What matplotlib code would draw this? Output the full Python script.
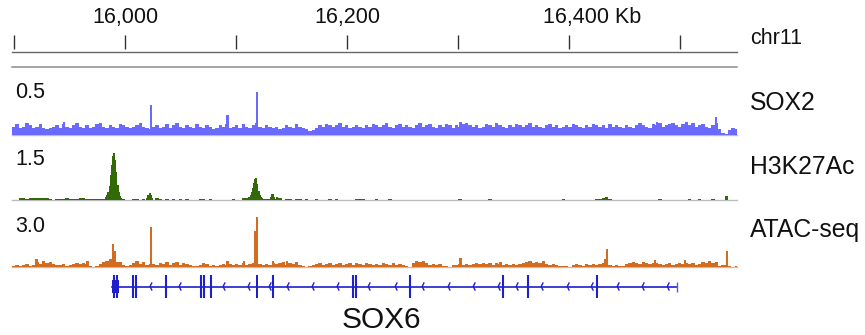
import numpy as np
import matplotlib
matplotlib.use('Agg')
import matplotlib.pyplot as plt
from matplotlib.patches import Rectangle

plt.rcParams['font.family'] = ['Liberation Sans', 'DejaVu Sans']

# ---------------- data ----------------
KB_START, KB_END = 15898, 16551
BIN_KB = 3

ruler_ticks = [15900, 16000, 16100, 16200, 16300, 16400, 16500]
ruler_labels = {16000: '16,000', 16200: '16,200', 16400: '16,400 Kb'}
chrom = 'chr11'

track_names = ['SOX2', 'H3K27Ac', 'ATAC-seq']
track_range = [0.5, 1.5, 3.0]
track_range_labels = ['0.5', '1.5', '3.0']
track_colors = ['#6a6aff', '#336a08', '#d26c1e']

# SOX2 background signal, 3 kb bins (hundredths)
sox2_bg = [7, 9, 6, 7, 10, 8, 6, 7, 9, 6, 5, 6, 7, 8, 6, 9, 7, 6, 8, 10, 7, 6,
           8, 6, 7, 9, 10, 7, 6, 8, 7, 6, 9, 8, 7, 6, 7, 8, 10, 7, 6, 5, 7, 8,
           6, 7, 9, 6, 8, 10, 7, 6, 8, 7, 6, 9, 7, 6, 8, 7, 5, 6, 8, 7, 9, 6,
           7, 8, 6, 9, 7, 6, 8, 10, 7, 6, 8, 7, 6, 7, 5, 6, 8, 7, 6, 9, 7, 6,
           5, 3, 4, 6, 8, 7, 9, 8, 7, 8, 10, 7, 8, 6, 7, 8, 7, 6, 8, 7, 9, 8,
           7, 8, 10, 7, 6, 8, 9, 7, 8, 7, 6, 8, 10, 7, 8, 9, 7, 6, 8, 7, 9, 8,
           6, 8, 7, 9, 10, 8, 7, 8, 6, 7, 9, 8, 7, 10, 8, 7, 6, 8, 7, 9, 8, 7,
           8, 10, 7, 8, 7, 6, 8, 9, 7, 8, 6, 7, 8, 7, 9, 8, 7, 6, 8, 7, 9, 8,
           7, 8, 6, 9, 7, 8, 7, 6, 8, 7, 6, 8, 10, 8, 7, 6, 9, 8, 10, 7, 8, 9,
           10, 8, 7, 9, 11, 8, 10, 7, 8, 9, 7, 6, 8, 10, 5, 2, 1, 4, 6, 5]
sox2_peak_kb = [15945, 16023, 16092, 16119, 16302, 16479, 16532]
sox2_peak_val = [0.11, 0.25, 0.17, 0.36, 0.11, 0.11, 0.15]

# H3K27Ac background, 3 kb bins (hundredths)
h3_bg = [0, 0, 4, 4, 2, 4, 5, 4, 5, 4, 4, 3, 0, 2, 2, 3, 5, 2, 2, 3, 6, 6,
         3, 2, 2, 2, 2, 3, 4, 4, 4, 4, 4, 2, 0, 0, 3, 3, 0, 3, 0, 0, 0, 4,
         2, 0, 3, 0, 3, 0, 3, 0, 3, 0, 0, 0, 3, 3, 0, 3, 0, 0, 0, 0, 0, 0,
         3, 0, 0, 4, 5, 3, 3, 3, 3, 3, 3, 3, 3, 3, 6, 0, 3, 3, 0, 3, 3, 0,
         3, 0, 0, 3, 0, 0, 0, 3, 0, 3, 0, 0, 0, 0, 0, 3, 3, 3, 0, 0, 0, 3,
         0, 0, 0, 3, 0, 0, 0, 0, 0, 0, 0, 0, 0, 0, 0, 0, 0, 0, 0, 0, 0, 0,
         0, 0, 3, 0, 0, 0, 0, 0, 0, 0, 0, 3, 0, 0, 0, 0, 0, 0, 0, 0, 0, 0,
         0, 0, 0, 0, 0, 0, 0, 0, 0, 0, 0, 3, 0, 0, 0, 0, 0, 0, 0, 0, 0, 3,
         3, 4, 8, 3, 0, 0, 0, 0, 0, 0, 0, 0, 0, 0, 0, 0, 0, 0, 3, 0, 0, 0,
         0, 0, 0, 0, 0, 3, 0, 0, 3, 0, 0, 0, 3, 0, 0, 0, 10, 0, 0, 0]
h3_peak_kb = [15983, 15984, 15985, 15986, 15987, 15988, 15989, 15990, 15991,
              15992, 15993, 15994, 15995, 15996,
              16112, 16113, 16114, 16115, 16116, 16117, 16118, 16119, 16120,
              16121, 16122, 16123,
              16020, 16021, 16022, 16023, 16024,
              16131, 16132, 16133, 16134, 16137]
h3_peak_val = [0.08, 0.13, 0.21, 0.37, 0.66, 0.92, 1.16, 1.24, 1.05,
               0.74, 0.39, 0.21, 0.11, 0.05,
               0.08, 0.13, 0.21, 0.32, 0.45, 0.55, 0.58, 0.42, 0.24,
               0.13, 0.08, 0.05,
               0.05, 0.13, 0.18, 0.13, 0.05,
               0.08, 0.16, 0.16, 0.08, 0.08]

# ATAC-seq background, 3 kb bins
atac_bg = [0.05, 0.1, 0.05, 0.1, 0.15, 0.05, 0.1,
           0.25, 0.15, 0.3, 0.2, 0.25, 0.15,
           0.1, 0.1, 0.15, 0.05, 0.1,
           0.15, 0.2, 0.15, 0.2, 0.15,
           0.05, 0.02, 0.05, 0.15, 0.25, 0.3, 0.4, 0.3, 0.25, 0.25,
           0.1, 0.05, 0.1, 0.2, 0.3, 0.15, 0.25, 0.1, 0.15, 0.15, 0.1,
           0.2, 0.15, 0.25, 0.1, 0.2, 0.25, 0.1, 0.2, 0.15, 0.1,
           0.05, 0.05, 0.1, 0.2, 0.15,
           0.05, 0.1, 0.05, 0.1, 0.15, 0.1,
           0.15, 0.1, 0.15, 0.1, 0.2, 0.1, 0.15, 0.2, 0.2, 0.15,
           0.1, 0.15, 0.1, 0.2, 0.15,
           0.2, 0.25, 0.1, 0.2, 0.15, 0.25, 0.1,
           0.05, 0.02, 0.05,
           0.1, 0.15, 0.2, 0.1, 0.15, 0.2, 0.1, 0.15, 0.2, 0.1, 0.15, 0.2,
           0.1, 0.2, 0.15, 0.1, 0.2, 0.15,
           0.1, 0.15, 0.1, 0.2, 0.15, 0.1, 0.2, 0.1, 0.15, 0.1, 0.05,
           0.02, 0.2, 0.3, 0.25, 0.3, 0.2,
           0.1, 0.15, 0.1, 0.15, 0.05, 0.05, 0.02, 0.1,
           0.1, 0.15, 0.1, 0.15, 0.1, 0.15, 0.2,
           0.15, 0.2, 0.15, 0.2, 0.1, 0.2,
           0.15, 0.1, 0.15, 0.1, 0.15, 0.1, 0.15,
           0.2, 0.25, 0.3, 0.2, 0.25, 0.2, 0.3, 0.15,
           0.1, 0.15, 0.1, 0.05, 0.05, 0.05, 0.02,
           0.1, 0.15, 0.1, 0.05, 0.15, 0.1, 0.15, 0.1, 0.15, 0.2, 0.25,
           0.1, 0.05, 0.1, 0.05, 0.05,
           0.15, 0.2, 0.25, 0.2, 0.15, 0.25, 0.2, 0.15, 0.2, 0.2, 0.15,
           0.1, 0.15, 0.2, 0.1, 0.15, 0.2, 0.15,
           0.2, 0.15, 0.2, 0.1, 0.15,
           0.25, 0.2, 0.3, 0.2, 0.25,
           0.05, 0.1, 0.1, 0.05, 0.02, 0.05]
atac_peak_kb = [15920, 15966, 15989, 15991, 16023, 16092, 16107, 16117,
                16119, 16133, 16146, 16302, 16338, 16432, 16434, 16477,
                16504, 16542]
atac_peak_val = [0.42, 0.32, 1.21, 0.84, 2.05, 0.32, 0.32, 1.84,
                 2.58, 0.32, 0.32, 0.47, 0.26, 0.42, 0.95, 0.37,
                 0.37, 0.84]

# SOX6 gene model (kb)
gene_name = 'SOX6'
gene_start, gene_end = 15988, 16497
utr_block = (15988, 15994.5)
exon_kb = [15989.5, 15993, 16007.0, 16009.7, 16036.8, 16068.3, 16071.0,
           16077.3, 16133.2, 16205.2, 16207.9, 16256.6, 16340.4, 16362.9,
           16425.1]
wide_exon = (16117.6, 16120.0)
chevron_kb = [16022.3, 16048.5, 16088.1, 16110.6, 16129.6, 16145.8, 16168.3,
              16190.8, 16218.8, 16243.1, 16267.4, 16290.8, 16313.4, 16335.9,
              16352.1, 16374.6, 16398.1, 16419.7, 16443.1, 16465.6, 16488.2]

# ---------------- figure ----------------
W, H = 865, 335
fig = plt.figure(figsize=(W / 100, H / 100), dpi=100)
fig.patch.set_facecolor('white')


def add_ax(x0, y0, x1, y1):
    ax = fig.add_axes([x0 / W, 1 - y1 / H, (x1 - x0) / W, (y1 - y0) / H])
    ax.set_axis_off()
    ax.set_xlim(KB_START, KB_END)
    return ax


def ftext(x, y, s, **kw):
    fig.text(x / W, 1 - y / H, s, va='baseline', **kw)


FS = 15.5
FS_TRACK = 17.8
GENE_BLUE = '#1f1fcc'

# ruler
axr = add_ax(12, 0, 737, 70)
axr.set_ylim(70, 0)
axr.plot([KB_START, KB_END], [51.5, 51.5], color='#666666', lw=1.0,
         clip_on=False)
axr.vlines(ruler_ticks, 35, 48.5, color='#333333', lw=1.0)
axr.plot([KB_START, KB_END], [66.5, 66.5], color='#8c8c8c', lw=1.1,
         clip_on=False)
for t, lab in ruler_labels.items():
    if lab.endswith('Kb'):
        axr.annotate(lab, xy=(t, 23.5), xytext=(-26, 0),
                     textcoords='offset pixels', ha='left', va='baseline',
                     fontsize=FS, color='#111111')
    else:
        axr.text(t, 23.5, lab, ha='center', va='baseline', fontsize=FS,
                 color='#111111')
ftext(750, 44.5, chrom, fontsize=FS, color='#111111')

# data tracks
track_boxes = [(75, 135), (143, 200), (209, 267)]
label_base = [109.5, 174.5, 237.5]
range_base = [98, 165, 232.5]
bgs = [np.array(sox2_bg) / 100.0, np.array(h3_bg) / 100.0, np.array(atac_bg)]
peaks = [(sox2_peak_kb, sox2_peak_val), (h3_peak_kb, h3_peak_val),
         (atac_peak_kb, atac_peak_val)]

for k in range(3):
    y0, y1 = track_boxes[k]
    ax = add_ax(12, y0, 737, y1)
    ax.set_ylim(0, track_range[k])
    vals = bgs[k]
    edges = KB_START + BIN_KB * np.arange(len(vals) + 1)
    ax.stairs(vals, edges, fill=True, color=track_colors[k], lw=0)
    pk, pv = peaks[k]
    ax.bar(pk, pv, width=2.0, color=track_colors[k], lw=0)
    ax.axhline(0, color='#bdbdbd', lw=1.0, clip_on=False, zorder=0)
    ftext(15, range_base[k], track_range_labels[k], fontsize=FS,
          color='#111111')
    ftext(750, label_base[k], track_names[k], fontsize=FS_TRACK,
          color='#111111')

# gene track
axg = add_ax(12, 268, 737, 335)
axg.set_ylim(335, 268)
yc = 286.5
axg.plot([gene_start, gene_end], [yc, yc], color=GENE_BLUE, lw=1.2)
axg.add_patch(Rectangle((utr_block[0], 280), utr_block[1] - utr_block[0],
                        13, color=GENE_BLUE, lw=0))
axg.vlines(exon_kb, 275, 298, color=GENE_BLUE, lw=1.5)
axg.add_patch(Rectangle((wide_exon[0], 275), wide_exon[1] - wide_exon[0],
                        23, color=GENE_BLUE, lw=0))
axg.vlines([gene_end], 281.5, 292, color='#5a5ae0', lw=1.0)
for c in chevron_kb:
    axg.plot([c + 1.6, c, c + 1.6], [yc - 3.5, yc, yc + 3.5],
             color=GENE_BLUE, lw=1.0)
axg.text(16231, 328.5, gene_name, ha='center', va='baseline', fontsize=21.5,
         color='#111111')

fig.savefig('out.png', dpi=100, facecolor='white')
